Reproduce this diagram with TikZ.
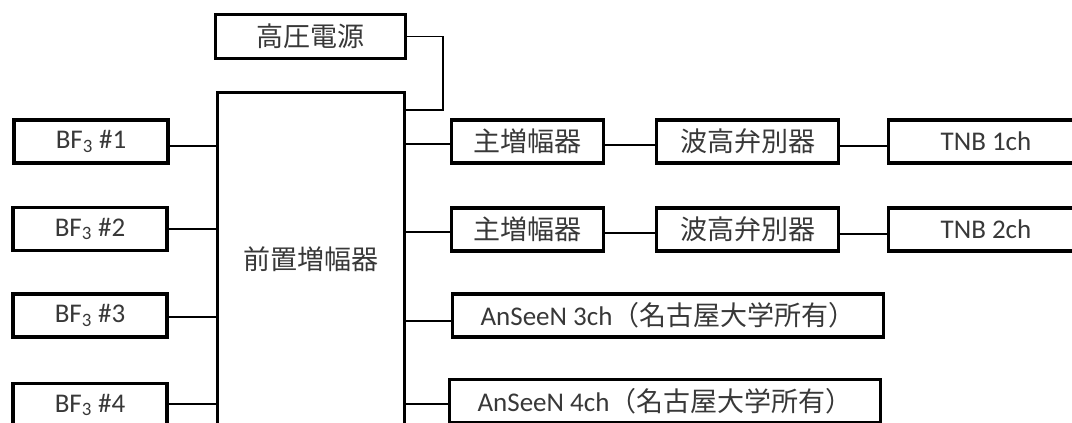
\documentclass[tikz,border=0pt]{standalone}
\usepackage{fontspec}
\setmainfont{Carlito}
\newfontfamily\cjk{Noto Sans CJK JP}
\definecolor{txt}{HTML}{383838}
\begin{document}
\begin{tikzpicture}[x=1pt,y=-1pt,
  box/.style={draw=black, line width=3.2pt, inner sep=0pt, text=txt,
    font=\fontsize{27}{30}\selectfont, minimum height=43pt},
  bfbox/.style={box, minimum width=154pt},
  ampbox/.style={box, minimum width=152pt},
  discbox/.style={box, minimum width=182pt},
  tnbbox/.style={box, minimum width=195pt},
  anbox/.style={box, minimum width=431pt},
  wire/.style={draw=black, line width=1.8pt}]
\useasboundingbox (0,0) rectangle (1072,423);
\clip (0,0) rectangle (1072,423);
% nodes
\node[box, minimum width=190pt, minimum height=44pt] (hv) at (310.5,36.5) {\cjk 高圧電源};
\node[box, minimum width=187pt, minimum height=333pt] (pre) at (311,259) {\cjk 前置増幅器};
\node[bfbox] (bf1) at (91,141.5) {BF\textsubscript{3} \#1};
\node[bfbox] (bf2) at (90,229) {BF\textsubscript{3} \#2};
\node[bfbox] (bf3) at (90,315.5) {BF\textsubscript{3} \#3};
\node[bfbox] (bf4) at (90,405) {BF\textsubscript{3} \#4};
\node[ampbox] (amp1) at (527.5,141.5) {\cjk 主増幅器};
\node[ampbox] (amp2) at (527.5,229.5) {\cjk 主増幅器};
\node[discbox] (disc1) at (747.5,141.5) {\cjk 波高弁別器};
\node[discbox] (disc2) at (747.5,229.5) {\cjk 波高弁別器};
\node[tnbbox] (tnb1) at (986,141.5) {TNB 1ch};
\node[tnbbox] (tnb2) at (986,229.5) {TNB 2ch};
\node[anbox] (an3) at (668,315.5) {AnSeeN 3ch{\cjk （名古屋大学所有）}};
\node[anbox] (an4) at (665,401) {AnSeeN 4ch{\cjk （名古屋大学所有）}};
% wires
\coordinate (hvk) at (443,110);
\draw[wire] (hv.east) -| (hvk) -- (hvk -| pre.east);
\path ([yshift=-4.5pt]bf1.east) coordinate (w1);
\draw[wire] (w1) -- (w1 -| pre.west);
\draw[wire] (bf2.east) -- (bf2.east -| pre.west);
\path ([yshift=-1.5pt]bf3.east) coordinate (w3);
\draw[wire] (w3) -- (w3 -| pre.west);
\path ([yshift=1pt]bf4.east) coordinate (w4);
\draw[wire] (w4) -- (w4 -| pre.west);
\path ([yshift=-2.5pt]amp1.west) coordinate (a1);
\draw[wire] (a1 -| pre.east) -- (a1);
\path ([yshift=-2.5pt]amp2.west) coordinate (a2);
\draw[wire] (a2 -| pre.east) -- (a2);
\path ([yshift=-3.5pt]amp1.east) coordinate (d1);
\draw[wire] (d1) -- (d1 -| disc1.west);
\path ([yshift=-3.5pt]amp2.east) coordinate (d2);
\draw[wire] (d2) -- (d2 -| disc2.west);
\path ([yshift=-4.5pt]disc1.east) coordinate (t1);
\draw[wire] (t1) -- (t1 -| tnb1.west);
\path ([yshift=-4.5pt]disc2.east) coordinate (t2);
\draw[wire] (t2) -- (t2 -| tnb2.west);
\path ([yshift=-5.5pt]an3.west) coordinate (n3);
\draw[wire] (n3 -| pre.east) -- (n3);
\path ([yshift=-3pt]an4.west) coordinate (n4);
\draw[wire] (n4 -| pre.east) -- (n4);
\end{tikzpicture}
\end{document}
